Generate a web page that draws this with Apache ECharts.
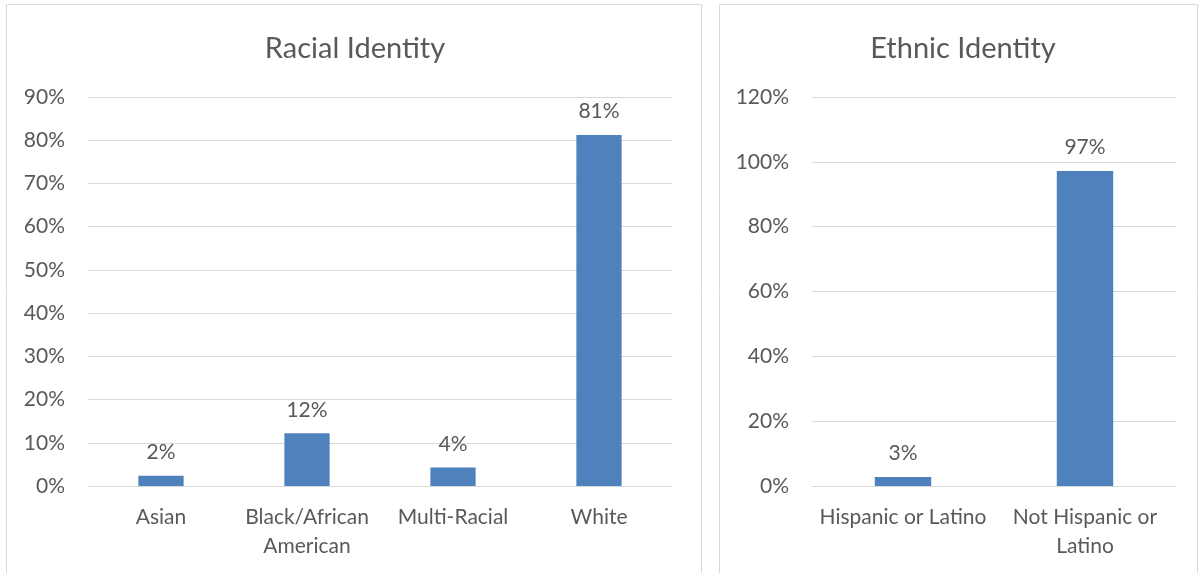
<!DOCTYPE html>
<html>
<head>
<meta charset="utf-8">
<script src="https://cdn.jsdelivr.net/npm/echarts@6/dist/echarts.min.js"></script>
<style>
html,body{margin:0;padding:0;background:#fff;}
#chart{width:1199px;height:573px;}
</style>
</head>
<body>
<div id="chart"></div>
<script>
var raceCategories = ['Asian', 'Black/African\nAmerican', 'Multi-Racial', 'White'];
var raceValues = [2.4, 12.2, 4.3, 81.2];
var ethnicCategories = ['Hispanic or Latino', 'Not Hispanic or\nLatino'];
var ethnicValues = [2.8, 97.2];

var FONT = 'Lato';
var TXT = '#595959';
var GRID = '#d9d9d9';
var BAR = '#4f81bd';

var chart = echarts.init(document.getElementById('chart'), null, {renderer: 'canvas'});

function xAxisCfg(idx, cats) {
  return {
    type: 'category', gridIndex: idx, data: cats,
    axisLine: {show: true, lineStyle: {color: GRID, width: 1}},
    axisTick: {show: false},
    axisLabel: {color: TXT, fontFamily: FONT, fontSize: 21, margin: 17, lineHeight: 29, interval: 0}
  };
}
function yAxisCfg(idx, max, interval) {
  return {
    type: 'value', gridIndex: idx, min: 0, max: max, interval: interval,
    axisLine: {show: false}, axisTick: {show: false},
    splitLine: {lineStyle: {color: GRID, width: 1}},
    axisLabel: {color: TXT, fontFamily: FONT, fontSize: 21, margin: 23,
      formatter: function (v) { return v + '%'; }}
  };
}
function barSeries(idx, vals) {
  return {
    type: 'bar', xAxisIndex: idx, yAxisIndex: idx, data: vals,
    barWidth: '31%',
    itemStyle: {color: BAR},
    label: {show: true, position: 'top', distance: 13, color: TXT, fontFamily: FONT, fontSize: 21,
      formatter: function (p) { return Math.round(p.value) + '%'; }},
    silent: true
  };
}

chart.setOption({
  animation: false,
  title: [
    {text: 'Racial Identity', left: 350, top: 29, textAlign: 'center',
     textStyle: {color: TXT, fontFamily: FONT, fontSize: 29, fontWeight: 'normal'}},
    {text: 'Ethnic Identity', left: 958, top: 29, textAlign: 'center',
     textStyle: {color: TXT, fontFamily: FONT, fontSize: 29, fontWeight: 'normal'}}
  ],
  grid: [
    {left: 88, right: 527, top: 97, bottom: 87},
    {left: 812, right: 23, top: 97, bottom: 87}
  ],
  xAxis: [xAxisCfg(0, raceCategories), xAxisCfg(1, ethnicCategories)],
  yAxis: [yAxisCfg(0, 90, 10), yAxisCfg(1, 120, 20)],
  series: [barSeries(0, raceValues), barSeries(1, ethnicValues)],
  graphic: [
    {type: 'rect', shape: {x: 6.5, y: 4.5, width: 695, height: 580}, style: {fill: 'none', stroke: GRID, lineWidth: 1}, silent: true},
    {type: 'rect', shape: {x: 719.5, y: 4.5, width: 478, height: 580}, style: {fill: 'none', stroke: GRID, lineWidth: 1}, silent: true}
  ]
});
</script>
</body>
</html>
